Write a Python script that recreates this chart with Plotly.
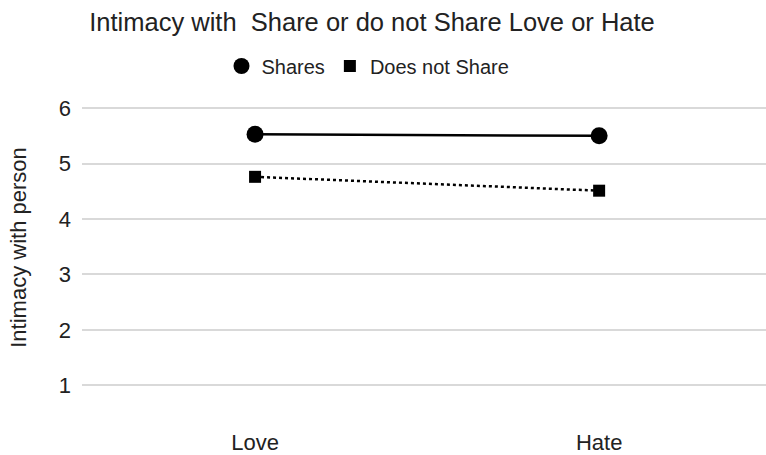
import plotly.graph_objects as go

# Condition on the x axis, mean intimacy rating per group
conditions = ["Love", "Hate"]
shares = [5.53, 5.50]
does_not_share = [4.76, 4.51]
y_ticks = [1, 2, 3, 4, 5, 6]

FONT = "Liberation Sans, Arial, sans-serif"
TEXT = "#222222"

fig = go.Figure()

# Lines with markers (legend drawn by marker-only entries below)
fig.add_trace(go.Scatter(
    x=conditions, y=shares, mode="lines+markers", showlegend=False,
    line=dict(color="black", width=2.5),
    marker=dict(symbol="circle", size=17, color="black"),
))
fig.add_trace(go.Scatter(
    x=conditions, y=does_not_share, mode="lines+markers", showlegend=False,
    line=dict(color="black", width=2.5, dash="dot"),
    marker=dict(symbol="square", size=12, color="black"),
))

# Marker-only legend entries
fig.add_trace(go.Scatter(
    x=[None], y=[None], mode="markers", name="Shares",
    marker=dict(symbol="circle", size=17, color="black"),
))
fig.add_trace(go.Scatter(
    x=[None], y=[None], mode="markers", name="Does not Share",
    marker=dict(symbol="square", size=12, color="black"),
))

fig.update_layout(
    width=766, height=455,
    margin=dict(l=82, r=0, t=107, b=65),
    paper_bgcolor="white", plot_bgcolor="white",
    font=dict(family=FONT, color=TEXT),
    title=dict(
        text="Intimacy with  Share or do not Share Love or Hate",
        x=372 / 766, xanchor="center", xref="container",
        y=1 - 22 / 455, yanchor="middle", yref="container",
        font=dict(size=25.5, color=TEXT, family=FONT),
    ),
    legend=dict(
        orientation="h", x=368 / 766, xref="container", xanchor="center",
        y=1 - 66 / 455, yref="container", yanchor="middle",
        font=dict(size=20, color=TEXT, family=FONT),
        itemwidth=30, bgcolor="rgba(0,0,0,0)",
    ),
    xaxis=dict(
        type="category", range=[-0.503, 1.485],
        showgrid=False, showline=False, zeroline=False,
        tickfont=dict(size=22, color=TEXT, family=FONT),
        ticklabelstandoff=39,
    ),
    yaxis=dict(
        range=[0.95, 6.02], tickvals=y_ticks,
        showgrid=True, gridcolor="#d9d9d9", gridwidth=1.5,
        showline=False, zeroline=False,
        tickfont=dict(size=22, color=TEXT, family=FONT),
        ticklabelstandoff=10,
        title=dict(text="Intimacy with person", standoff=26,
                   font=dict(size=22, color=TEXT, family=FONT)),
    ),
)

fig.write_html("out.html")
